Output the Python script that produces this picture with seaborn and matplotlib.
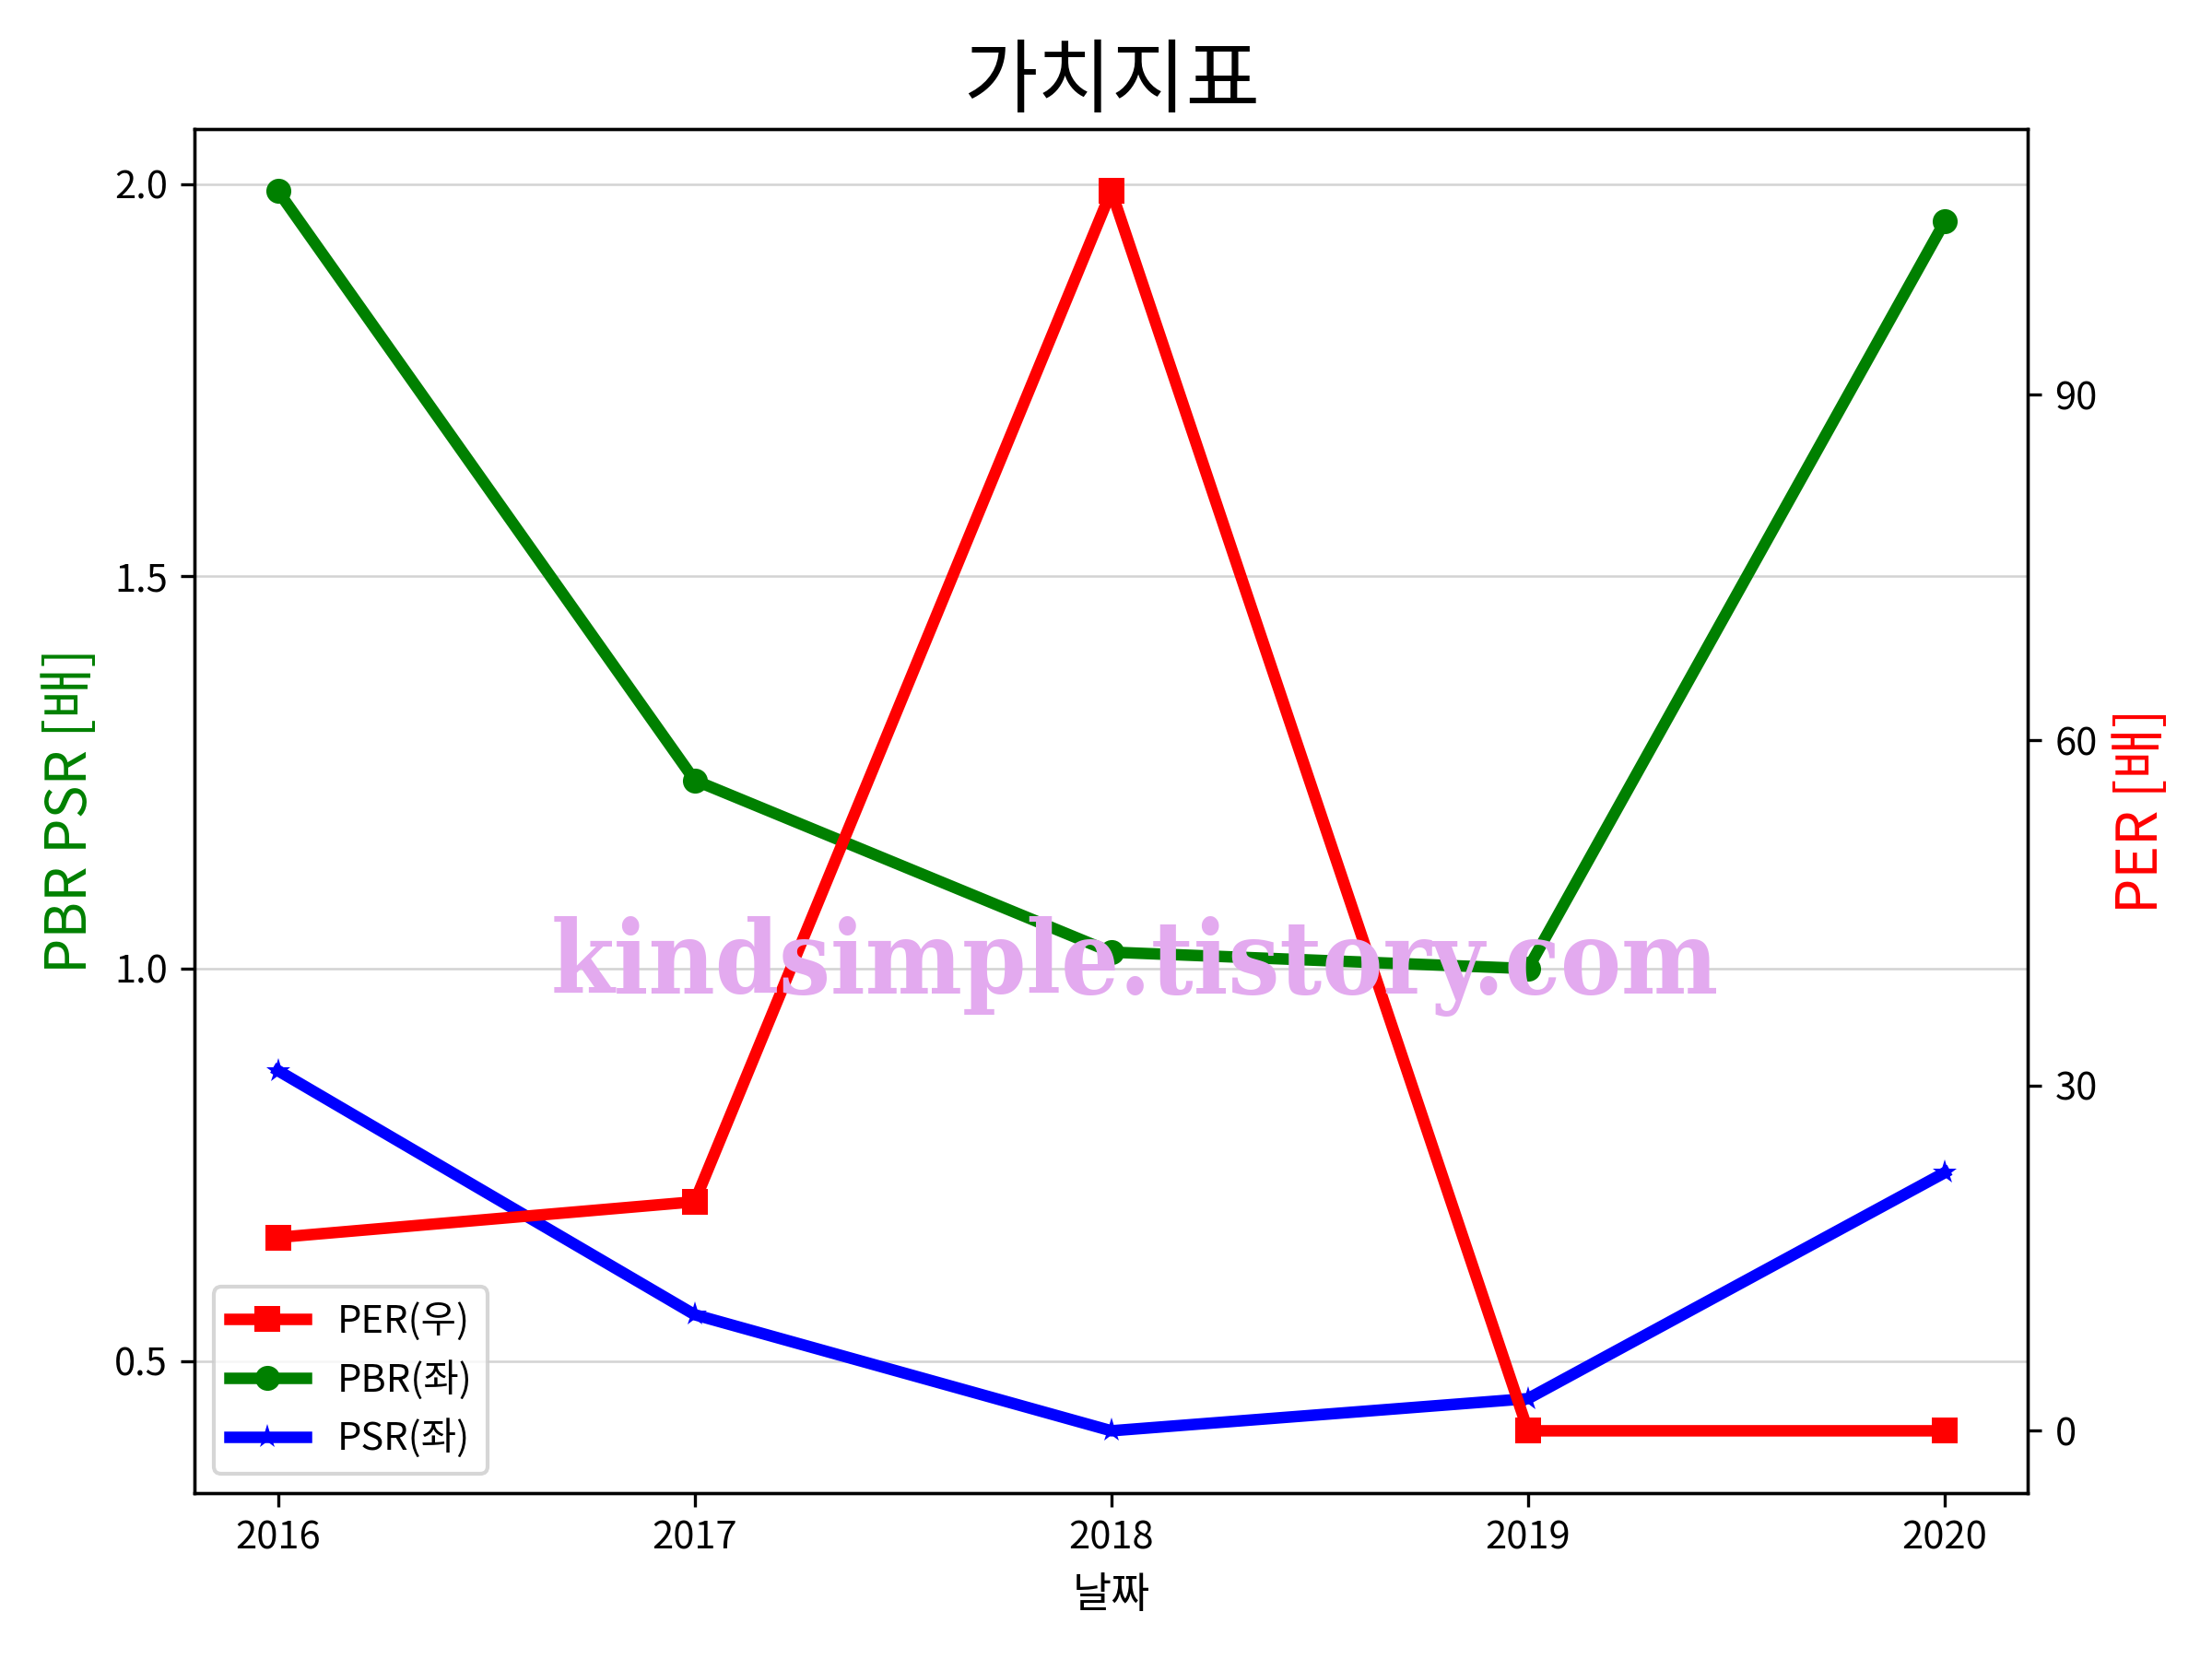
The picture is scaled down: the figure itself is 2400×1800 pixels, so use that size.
import pandas as pd
import seaborn as sns
import matplotlib.pyplot as plt

# values
years = [2016, 2017, 2018, 2019, 2020]
per = [16.8, 19.9, 107.7, 0.0, 0.0]
pbr = [1.991, 1.240, 1.021, 1.000, 1.952]
psr = [0.870, 0.559, 0.411, 0.452, 0.740]

df = pd.DataFrame({'날짜': years, 'PER': per, 'PBR': pbr, 'PSR': psr})

plt.rcParams['font.family'] = ['Noto Sans CJK KR', 'DejaVu Sans']
plt.rcParams['axes.unicode_minus'] = False

fig, ax1 = plt.subplots(figsize=(8, 6), dpi=300)
ax2 = ax1.twinx()

sns.lineplot(data=df, x='날짜', y='PBR', ax=ax1, color='green', marker='o',
             markersize=6.5, markeredgewidth=0, linewidth=3, label='PBR(좌)', legend=False)
sns.lineplot(data=df, x='날짜', y='PSR', ax=ax1, color='blue', marker='*',
             markersize=6.5, markeredgewidth=0, linewidth=3, label='PSR(좌)', legend=False)
sns.lineplot(data=df, x='날짜', y='PER', ax=ax2, color='red', marker='s',
             markersize=6.5, markeredgewidth=0, linewidth=3, label='PER(우)', legend=False)

ax1.grid(axis='y', color='lightgray', linewidth=0.6)
ax1.set_axisbelow(True)
ax1.set_xticks(years)
ax1.set_yticks([0.5, 1.0, 1.5, 2.0])
ax2.set_yticks([0, 30, 60, 90])

ax1.set_xlabel('날짜', fontsize=11)
ax1.set_ylabel('PBR PSR [배]', color='green', fontsize=14.5)
ax2.set_ylabel('PER [배]', color='red', fontsize=14.5)
ax1.set_title('가치지표', fontsize=21)

h1, l1 = ax1.get_legend_handles_labels()
h2, l2 = ax2.get_legend_handles_labels()
ax2.legend(h2 + h1, l2 + l1, loc='lower left', fontsize=10)

# watermark
ax2.text(0.513, 0.386, 'kindsimple.tistory.com', transform=ax2.transAxes,
         ha='center', va='center', fontsize=26.5, fontweight='bold',
         family='DejaVu Serif', fontstretch='condensed', color='#e3aaef', zorder=10)

plt.tight_layout()
plt.savefig('out.png')
